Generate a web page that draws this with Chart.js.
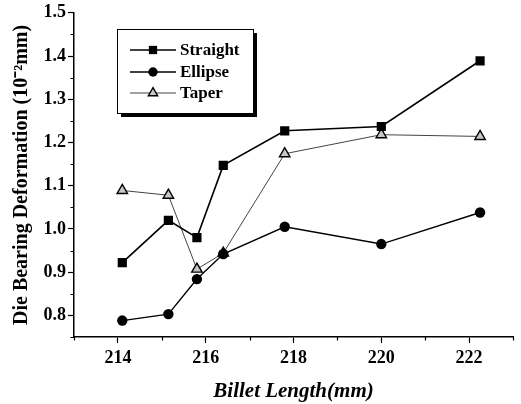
<!DOCTYPE html>
<html><head><meta charset="utf-8">
<script src="https://cdn.jsdelivr.net/npm/chart.js@4.4.1/dist/chart.umd.min.js"></script>
<style>html,body{margin:0;padding:0;background:#fff}#wrap{width:521px;height:404px}</style>
</head><body><div id="wrap"><canvas id="c" width="521" height="404"></canvas></div>
<script>
const seriesNames = ["Straight", "Ellipse", "Taper"];
const billetLength = [214.1, 215.15, 215.8, 216.4, 217.8, 220.0, 222.25];
const straight = [0.922, 1.02, 0.98, 1.147, 1.227, 1.237, 1.389];
const ellipse  = [0.788, 0.803, 0.884, 0.942, 1.005, 0.965, 1.038];
const taper    = [1.089, 1.078, 0.907, 0.944, 1.174, 1.218, 1.214];
const xTicks = [213, 214, 215, 216, 217, 218, 219, 220, 221, 222, 223];
const xLabels = [214, 216, 218, 220, 222];
const yTicks = [0.75, 0.8, 0.85, 0.9, 0.95, 1.0, 1.05, 1.1, 1.15, 1.2, 1.25, 1.3, 1.35, 1.4, 1.45, 1.5];
const yLabels = [0.8, 0.9, 1.0, 1.1, 1.2, 1.3, 1.4, 1.5];

const FONT = "'Liberation Serif','Times New Roman',serif";
const isLabel = (arr, v) => arr.some(a => Math.abs(a - v) < 1e-6);
const pts = arr => billetLength.map((x, i) => ({x, y: arr[i]}));

const datasets = [
  {label: seriesNames[0], data: pts(straight), borderColor: '#000', backgroundColor: '#000', borderWidth: 1.6,
   pointStyle: 'rect', pointRadius: 6.5, pointBorderWidth: 0, pointBackgroundColor: '#000'},
  {label: seriesNames[1], data: pts(ellipse), borderColor: '#000', backgroundColor: '#000', borderWidth: 1.4,
   pointStyle: 'circle', pointRadius: 5.2, pointBorderWidth: 0, pointBackgroundColor: '#000'},
  {label: seriesNames[2], data: pts(taper), borderColor: '#444', backgroundColor: '#bbb', borderWidth: 1,
   pointStyle: 'triangle', pointRadius: 6, pointBorderWidth: 1.4, pointBorderColor: '#000', pointBackgroundColor: '#c8c8c8'}
];

const minorTicks = {
  id: 'minorTicks',
  afterDraw(chart) {
    const ctx = chart.ctx;
    const xs = chart.scales.x, ys = chart.scales.y;
    ctx.save();
    ctx.strokeStyle = '#000'; ctx.lineWidth = 1.2;
    ctx.beginPath();
    xTicks.forEach(v => { if (!isLabel(xLabels, v)) { const p = Math.round(xs.getPixelForValue(v)) + 0.5; ctx.moveTo(p, xs.top); ctx.lineTo(p, xs.top + 3.5); } });
    yTicks.forEach(v => { if (!isLabel(yLabels, v)) { const p = Math.round(ys.getPixelForValue(v)) + 0.5; ctx.moveTo(ys.right, p); ctx.lineTo(ys.right - 3.5, p); } });
    ctx.stroke();
    ctx.restore();
  }
};

const legendBox = {
  id: 'legendBox',
  afterDatasetsDraw(chart) {
    const ctx = chart.ctx;
    const bx = 117, by = 29, bw = 136, bh = 84, sh = 4;
    ctx.save();
    ctx.fillStyle = '#000';
    ctx.fillRect(bx + sh, by + sh, bw, bh);
    ctx.fillStyle = '#fff';
    ctx.fillRect(bx, by, bw, bh);
    ctx.strokeStyle = '#000'; ctx.lineWidth = 1;
    ctx.strokeRect(bx + 0.5, by + 0.5, bw, bh);
    const rows = [50, 72, 93];
    chart.data.datasets.forEach((ds, i) => {
      const y = rows[i];
      ctx.strokeStyle = ds.borderColor; ctx.lineWidth = ds.borderWidth;
      ctx.beginPath(); ctx.moveTo(130, y); ctx.lineTo(176, y); ctx.stroke();
      ctx.fillStyle = ds.pointBackgroundColor; ctx.strokeStyle = ds.pointBorderColor || '#000'; ctx.lineWidth = ds.pointBorderWidth || 0;
      ctx.beginPath();
      Chart.helpers.drawPoint(ctx, {pointStyle: ds.pointStyle, rotation: 0, radius: ds.pointRadius * 0.9, borderWidth: ds.pointBorderWidth}, 153, y);
      ctx.fillStyle = '#000';
      ctx.font = 'bold 17px ' + FONT;
      ctx.textBaseline = 'middle'; ctx.textAlign = 'left';
      ctx.fillText(ds.label, 180, y + 1);
    });
    ctx.restore();
  }
};

new Chart(document.getElementById('c'), {
  type: 'line',
  data: {datasets},
  options: {
    responsive: false, animation: false, devicePixelRatio: 1,
    layout: {padding: {left: 10, right: 8, top: 10, bottom: 0}},
    plugins: {legend: {display: false}, tooltip: {enabled: false}},
    scales: {
      x: {
        type: 'linear', min: 213, max: 223,
        afterBuildTicks: s => { s.ticks = xTicks.map(v => ({value: v})); },
        afterFit: s => { s.height = 67; },
        grid: {drawOnChartArea: false, tickLength: 6, tickWidth: 1.2,
               tickColor: c => isLabel(xLabels, c.tick ? c.tick.value : NaN) ? '#000' : 'rgba(0,0,0,0)'},
        border: {display: true, color: '#000', width: 1.5},
        ticks: {color: '#000', font: {family: FONT, size: 18, weight: 'bold'}, padding: 5, maxRotation: 0, autoSkip: false,
                callback: v => isLabel(xLabels, v) ? String(v) : ''},
        title: {display: true, text: 'Billet Length(mm)', color: '#000', font: {family: FONT, size: 21, weight: 'bold', style: 'italic'}, padding: {top: 3, bottom: 0}}
      },
      y: {
        type: 'linear', min: 0.75, max: 1.5,
        afterBuildTicks: s => { s.ticks = yTicks.map(v => ({value: v})); },
        afterFit: s => { s.width = 64; },
        grid: {drawOnChartArea: false, tickLength: 6, tickWidth: 1.2,
               tickColor: c => isLabel(yLabels, c.tick ? c.tick.value : NaN) ? '#000' : 'rgba(0,0,0,0)'},
        border: {display: true, color: '#000', width: 1.5},
        ticks: {color: '#000', font: {family: FONT, size: 18, weight: 'bold'}, padding: 2, autoSkip: false,
                callback: v => isLabel(yLabels, v) ? v.toFixed(1) : ''},
        title: {display: true, text: 'Die Bearing Deformation (10\u207B\u00B2mm)', color: '#000', font: {family: FONT, size: 20, weight: 'bold'}, padding: {top: 0, bottom: 2}}
      }
    }
  },
  plugins: [minorTicks, legendBox]
});
</script>
</body></html>
